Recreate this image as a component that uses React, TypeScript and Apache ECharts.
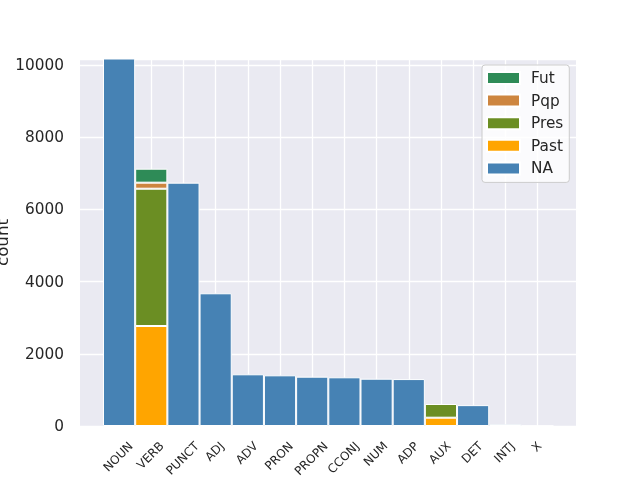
import React, { useEffect, useRef } from "react";
import * as echarts from "echarts";

const categories = ["NOUN", "VERB", "PUNCT", "ADJ", "ADV", "PRON", "PROPN", "CCONJ", "NUM", "ADP", "AUX", "DET", "INTJ", "X"];
const naValues = [10400, null, 6740, 3676, 1432, 1404, 1366, 1349, 1310, 1300, null, 578, 47, 8];
const pastValues = [null, 2770, null, null, null, null, null, null, null, null, 230, null, null, null];
const presValues = [null, 3803, null, null, null, null, null, null, null, null, 379, null, null, null];
const pqpValues = [null, 167, null, null, null, null, null, null, null, null, null, null, null, null];
const futValues = [null, 387, null, null, null, null, null, null, null, null, null, null, null, null];
const legendOrder = ["Fut", "Pqp", "Pres", "Past", "NA"];
const yTicks = [0, 2000, 4000, 6000, 8000, 10000];

const FONT = "DejaVu Sans";
const TEXT = "#262626";
const Y_MAX = 10166;

let measureCtx: CanvasRenderingContext2D | null = null;
function measure(text: string, size: number): number {
  if (!measureCtx) measureCtx = document.createElement("canvas").getContext("2d");
  if (!measureCtx) return text.length * size * 0.65;
  measureCtx.font = `${size}px "${FONT}"`;
  return measureCtx.measureText(text).width;
}

export default function App() {
  const ref = useRef<HTMLDivElement>(null);
  useEffect(() => {
    if (!ref.current) return;
    const chart = echarts.init(ref.current, null, { renderer: "svg" });
    const barStyle = (color: string) => ({ color, borderColor: "#ffffff", borderWidth: 1 });
    const mkBar = (name: string, data: (number | null)[], color: string) => ({
      name,
      type: "bar",
      stack: "total",
      xAxisIndex: 1,
      yAxisIndex: 1,
      data,
      barWidth: "100%",
      barCategoryGap: 0,
      itemStyle: barStyle(color),
      z: 3,
    });
    const labelSize = 12;
    const option: any = {
      animation: false,
      textStyle: { fontFamily: FONT },
      grid: [
        { left: 80, right: 64, top: 59, bottom: 54, show: true, backgroundColor: "#eaeaf2", borderWidth: 0, outerBoundsMode: "none" },
        { left: 103, right: 86.4, top: 59, bottom: 54, outerBoundsMode: "none" },
        { left: 119.1, right: 102.5, top: 59, bottom: 54, outerBoundsMode: "none" },
      ],
      xAxis: [
        { gridIndex: 0, type: "value", min: 0, max: 1, show: false, splitLine: { show: false } },
        { gridIndex: 1, type: "category", data: categories, axisLine: { show: false }, axisTick: { show: false }, axisLabel: { show: false }, splitLine: { show: false } },
        { gridIndex: 2, type: "value", min: 0, max: categories.length - 1, interval: 1, axisLine: { show: false }, axisTick: { show: false }, axisLabel: { show: false }, splitLine: { show: true, lineStyle: { color: "#ffffff", width: 1.3 } } },
      ],
      yAxis: [
        {
          gridIndex: 0,
          type: "value",
          min: 0,
          max: Y_MAX,
          interval: 2000,
          name: "count",
          nameLocation: "middle",
          nameGap: 70,
          nameMoveOverlap: false,
          nameTextStyle: { fontSize: 16.7, color: TEXT, fontFamily: FONT },
          axisLine: { show: false },
          axisTick: { show: false },
          axisLabel: {
            margin: 16,
            fontSize: 15.3,
            color: TEXT,
            fontFamily: FONT,
            showMaxLabel: false,
            formatter: (v: number) => (yTicks.indexOf(v) >= 0 ? String(v) : ""),
          },
          splitLine: { show: true, lineStyle: { color: "#ffffff", width: 1.3 } },
        },
        { gridIndex: 1, type: "value", min: 0, max: Y_MAX, show: false, splitLine: { show: false } },
        { gridIndex: 2, type: "value", min: 0, max: Y_MAX, show: false, splitLine: { show: false } },
      ],
      legend: {
        data: legendOrder,
        orient: "vertical",
        left: 482,
        top: 65,
        align: "left",
        itemWidth: 33,
        itemHeight: 12,
        itemGap: 6.6,
        icon: "rect",
        selectedMode: false,
        padding: [5, 6, 6, 4],
        backgroundColor: "rgba(255,255,255,0.8)",
        borderColor: "#cccccc",
        borderWidth: 1,
        borderRadius: 3,
        textStyle: { fontSize: 15.3, color: TEXT, fontFamily: FONT, lineHeight: 16, padding: [0, 0, 0, 6] },
      },
      series: [
        mkBar("NA", naValues, "#4682b4"),
        mkBar("Past", pastValues, "#ffa500"),
        mkBar("Pres", presValues, "#6b8e23"),
        mkBar("Pqp", pqpValues, "#cd853f"),
        mkBar("Fut", futValues, "#2e8b57"),
        {
          name: "labels",
          type: "custom",
          xAxisIndex: 1,
          yAxisIndex: 1,
          silent: true,
          clip: false,
          z: 5,
          data: categories.map((_, i) => [i, 0]),
          renderItem: (_params: any, api: any) => {
            const i = api.value(0);
            const label = categories[i];
            const pt = api.coord([i, 0]);
            const w = measure(label, labelSize);
            const h = labelSize * 1.17;
            const half = ((w + h) * Math.SQRT1_2) / 2;
            return {
              type: "text",
              x: pt[0] - 1,
              y: pt[1] + 13 + half,
              rotation: Math.PI / 4,
              style: {
                text: label,
                x: 0,
                y: 0,
                align: "center",
                verticalAlign: "middle",
                fontSize: labelSize,
                fontFamily: FONT,
                fill: TEXT,
              },
            };
          },
        },
      ],
    };
    chart.setOption(option);
    return () => chart.dispose();
  }, []);
  return <div ref={ref} style={{ position: "fixed", left: 0, top: 0, width: 640, height: 480 }} />;
}
